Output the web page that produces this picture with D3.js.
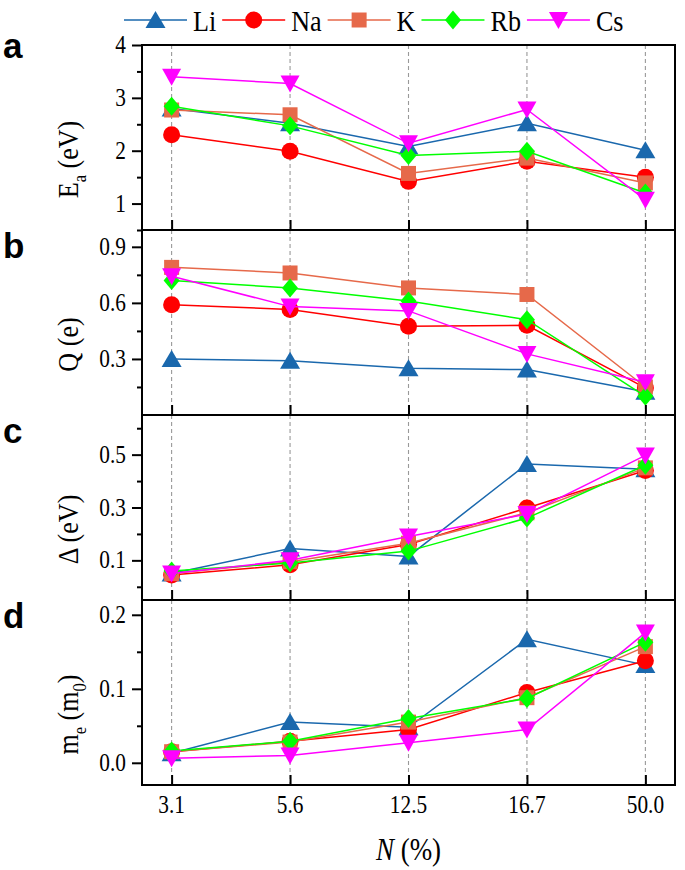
<!DOCTYPE html>
<html>
<head>
<meta charset="utf-8">
<script src="https://cdn.jsdelivr.net/npm/d3@7"></script>
<style>
  html, body { margin: 0; padding: 0; background: #fff; }
  svg { display: block; }
  .serif { font-family: "Liberation Serif", "Times New Roman", Times, "DejaVu Serif", serif; }
  .sans { font-family: "Liberation Sans", Arial, Helvetica, sans-serif; }
</style>
</head>
<body>
<svg id="chart" width="685" height="870"></svg>
<script>
// ---------------- DATA ----------------
const categories = ["3.1", "5.6", "12.5", "16.7", "50.0"];
const seriesNames = ["Li", "Na", "K", "Rb", "Cs"];
const seriesColors = ["#1a68ad", "#ff0000", "#e6694a", "#00ff00", "#ff00ff"];

// panel a : Ea (eV)   rows: Li, Na, K, Rb, Cs
const Ea = [
  [2.80, 2.52, 2.08, 2.52, 2.01],
  [2.30, 1.99, 1.42, 1.80, 1.50],
  [2.77, 2.68, 1.57, 1.86, 1.39],
  [2.84, 2.47, 1.91, 1.99, 1.20],
  [3.40, 3.27, 2.14, 2.78, 1.07]
];
// panel b : Q (e)
const Q = [
  [0.300, 0.290, 0.250, 0.243, 0.125],
  [0.590, 0.565, 0.475, 0.480, 0.145],
  [0.790, 0.760, 0.680, 0.645, 0.150],
  [0.720, 0.680, 0.610, 0.510, 0.100],
  [0.743, 0.580, 0.557, 0.327, 0.175]
];
// panel c : Delta (eV)
const Delta = [
  [0.050, 0.145, 0.115, 0.465, 0.445],
  [0.045, 0.083, 0.160, 0.298, 0.440],
  [0.050, 0.095, 0.165, 0.280, 0.450],
  [0.060, 0.090, 0.135, 0.260, 0.460],
  [0.050, 0.100, 0.190, 0.275, 0.497]
];
// panel d : me (m0)
const Me = [
  [0.013, 0.055, 0.048, 0.167, 0.132],
  [0.015, 0.029, 0.045, 0.095, 0.138],
  [0.015, 0.028, 0.055, 0.088, 0.157],
  [0.016, 0.029, 0.060, 0.087, 0.163],
  [0.006, 0.010, 0.027, 0.045, 0.176]
];

const panelLetters = ["a", "b", "c", "d"];
const yDomains = [[0.5, 4], [0, 0.99], [-0.05, 0.65], [-0.03, 0.22]];
const yMajor = [[1, 2, 3, 4], [0.3, 0.6, 0.9], [0.1, 0.3, 0.5], [0.0, 0.1, 0.2]];
const yMajorLabels = [["1", "2", "3", "4"], ["0.3", "0.6", "0.9"], ["0.1", "0.3", "0.5"], ["0.0", "0.1", "0.2"]];
const yMinor = [[0.5, 1.5, 2.5, 3.5], [0.15, 0.45, 0.75], [0.0, 0.2, 0.4, 0.6], [0.05, 0.15]];
// y titles: arrays of [text, isSubscript]
const yTitles = [
  [["E", 0], ["a", 1], [" (eV)", 0]],
  [["Q (e)", 0]],
  [["\u0394 (eV)", 0]],
  [["m", 0], ["e", 1], [" (m", 0], ["0", 1], [")", 0]]
];
const xTitle = "N";
const xTitleRest = " (%)";

// ---------------- LAYOUT ----------------
const W = 685, H = 870;
const left = 142, right = 675;
const panelTop = 45, panelH = 185;
const COND = 0.87;

const svg = d3.select("#chart");
svg.append("rect").attr("width", W).attr("height", H).attr("fill", "#fff");

const x = d3.scalePoint().domain(categories).range([left, right]).padding(0.25);

// marker shapes
const shapes = {
  Li: "M0,-9L10,8L-10,8Z",
  K: "M-7.5,-7.5H7.5V7.5H-7.5Z",
  Rb: "M0,-9.5L8,0L0,9.5L-8,0Z",
  Cs: "M-9.5,-8H9.5L0,9Z"
};
function drawMarker(g, name, color, cx, cy) {
  if (name === "Na") {
    g.append("circle").attr("cx", cx).attr("cy", cy).attr("r", 8.5).attr("fill", color);
  } else {
    g.append("path").attr("d", shapes[name]).attr("transform", `translate(${cx},${cy})`).attr("fill", color);
  }
}

function condText(g, str, tx, ty, size, anchor, rot) {
  return g.append("text")
    .attr("class", "serif")
    .attr("transform", `translate(${tx},${ty}) rotate(${rot || 0}) scale(${COND},1)`)
    .style("font-size", size + "px")
    .attr("text-anchor", anchor || "start")
    .attr("fill", "#000")
    .text(str);
}

const panelData = [Ea, Q, Delta, Me];

panelData.forEach((data, p) => {
  const top = panelTop + p * panelH;
  const bottom = top + panelH;
  const y = d3.scaleLinear().domain(yDomains[p]).range([bottom, top]);
  const g = svg.append("g");

  // dashed vertical guide lines
  g.selectAll("line.guide").data(categories).enter().append("line")
    .attr("x1", d => x(d)).attr("x2", d => x(d))
    .attr("y1", top).attr("y2", bottom)
    .attr("stroke", "#999").attr("stroke-width", 1.1)
    .attr("stroke-dasharray", "4,3");

  // series
  const line = d3.line().x((d, i) => x(categories[i])).y(d => y(d));
  data.forEach((vals, s) => {
    const col = seriesColors[s];
    g.append("path").datum(vals).attr("d", line)
      .attr("fill", "none").attr("stroke", col).attr("stroke-width", 1.5);
    vals.forEach((v, i) => drawMarker(g, seriesNames[s], col, x(categories[i]), y(v)));
  });

  // frame
  g.append("rect").attr("x", left).attr("y", top).attr("width", right - left).attr("height", panelH)
    .attr("fill", "none").attr("stroke", "#000").attr("stroke-width", 2);

  // y axis major
  const yAx = g.append("g").attr("transform", `translate(${left},0)`)
    .call(d3.axisLeft(y).tickValues(yMajor[p]).tickSize(10)
      .tickFormat((d, i) => yMajorLabels[p][i]));
  yAx.select(".domain").remove();
  yAx.selectAll(".tick line").attr("stroke", "#000").attr("stroke-width", 2);
  yAx.selectAll(".tick text").remove();
  yMajor[p].forEach((v, i) => {
    condText(g, yMajorLabels[p][i], left - 16, y(v) + 8, 24.5, "end");
  });
  // y axis minor
  const yMin = g.append("g").attr("transform", `translate(${left},0)`)
    .call(d3.axisLeft(y).tickValues(yMinor[p]).tickSize(5).tickFormat(""));
  yMin.select(".domain").remove();
  yMin.selectAll(".tick line").attr("stroke", "#000").attr("stroke-width", 2);

  // bottom ticks (inward)
  const xAx = g.append("g").attr("transform", `translate(0,${bottom})`)
    .call(d3.axisBottom(x).tickSize(-10).tickFormat(""));
  xAx.select(".domain").remove();
  xAx.selectAll(".tick line").attr("stroke", "#000").attr("stroke-width", 2);

  // panel letter
  const ly = p === 0 ? top + 13 : top + 28;
  g.append("text").attr("class", "sans").attr("x", 3).attr("y", ly)
    .style("font-weight", "bold").style("font-size", "35px")
    .text(panelLetters[p]);

  // y title
  const tt = g.append("text").attr("class", "serif")
    .attr("transform", `translate(78,${(top + bottom) / 2 + 22}) rotate(-90) scale(${COND},1)`)
    .style("font-size", "30px").attr("text-anchor", "middle");
  let prevSub = 0;
  yTitles[p].forEach(([str, sub]) => {
    const ts = tt.append("tspan").text(str);
    if (sub) ts.style("font-size", "19px");
    ts.attr("dy", sub ? (prevSub ? 0 : 8) : (prevSub ? -8 : 0));
    prevSub = sub;
  });
});

// x tick labels
categories.forEach(c => {
  condText(svg, c, x(c), 813, 24.5, "middle");
});
// x title
const xt = svg.append("text").attr("class", "serif")
  .attr("transform", `translate(${(left + right) / 2},860) scale(${COND},1)`)
  .style("font-size", "31px").attr("text-anchor", "middle");
xt.append("tspan").style("font-style", "italic").text(xTitle);
xt.append("tspan").text(xTitleRest);

// legend
const lg = svg.append("g");
let cx = 124;
const legY = 20;
seriesNames.forEach((name, s) => {
  const col = seriesColors[s];
  lg.append("line").attr("x1", cx).attr("x2", cx + 63).attr("y1", legY).attr("y2", legY)
    .attr("stroke", col).attr("stroke-width", 1.5);
  drawMarker(lg, name, col, cx + 31.5, legY);
  const t = condText(lg, name, cx + 69, legY + 11, 30, "start");
  const w = t.node().getComputedTextLength() * COND;
  cx = cx + 69 + w + 6;
});
</script>
</body>
</html>
